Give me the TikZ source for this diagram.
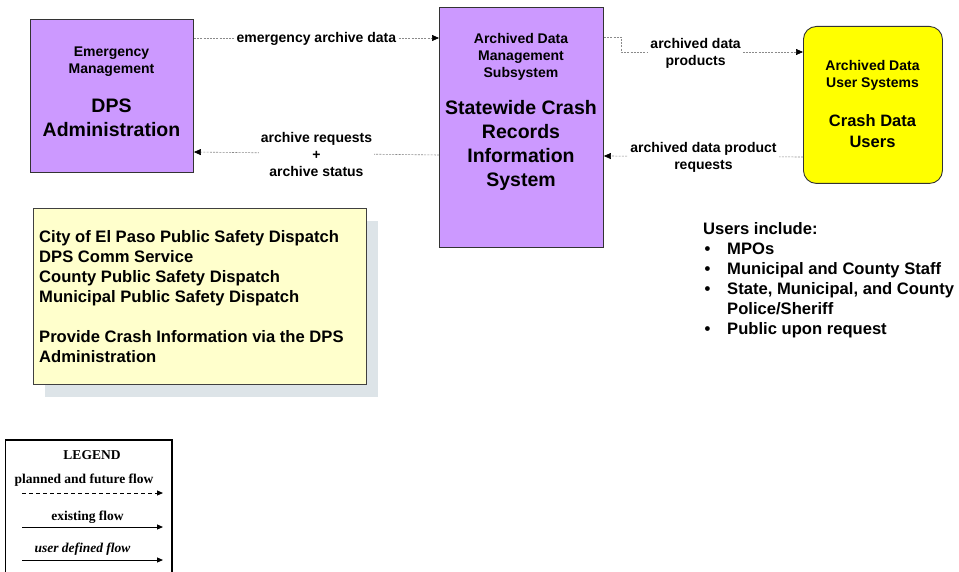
\documentclass[tikz,border=0pt]{standalone}
\usepackage{fontspec}
\setmainfont{Liberation Sans}
\newfontfamily\legendfont{Liberation Serif}
\usepackage{tikz}
\usetikzlibrary{arrows.meta,positioning,calc,shadows}
\definecolor{subsys}{HTML}{CC99FF}
\definecolor{termyellow}{HTML}{FFFF00}
\definecolor{notefill}{HTML}{FFFFCC}
\definecolor{noteshadow}{HTML}{DDE4E8}
\definecolor{flowgray}{HTML}{8A8A8A}
\newcommand{\bul}{\makebox[24pt][l]{\hspace{1.5pt}\textbullet}}

\begin{document}
\begin{tikzpicture}[
  x=1pt, y=-1pt,
  every node/.style={inner sep=0pt},
  boxline/.style  ={draw=black!80, line width=0.9pt},
  subsysbox/.style={boxline, fill=subsys, anchor=north west},
  termbox/.style  ={boxline, fill=termyellow, rounded corners=13pt, anchor=north west},
  smalltxt/.style ={font=\bfseries\fontsize{14}{17}\selectfont, align=center},
  bigtxt/.style   ={font=\bfseries\fontsize{19.5}{24}\selectfont, align=center},
  termtxt/.style  ={font=\bfseries\fontsize{16.5}{20.5}\selectfont, align=center},
  listtxt/.style  ={font=\bfseries\fontsize{16.6}{20}\selectfont, align=left, anchor=north west},
  flow/.style     ={draw=flowgray, line width=0.6pt, dash pattern=on 2pt off 1.2pt,
                    -{Triangle[length=7pt,width=6pt,color=black]}},
  flowlabel/.style={fill=white, inner xsep=2pt, inner ysep=1pt, yshift=-1.2pt,
                    font=\bfseries\fontsize{14}{17}\selectfont, align=center},
  legendtxt/.style={font=\legendfont\bfseries\fontsize{13.5}{16}\selectfont},
  legendflow/.style={line width=1pt, -{Triangle[length=6pt,width=5pt]}}]

\useasboundingbox (0,0) rectangle (959,572);

% ---------------------------- the boxes -------------------------------
\node[subsysbox, minimum width=163pt, minimum height=153pt] (dps) at (30,19) {};
\node[smalltxt] (dpsrole) at (111.5,61.5) {Emergency\\Management};
\node[bigtxt]   (dpsname) at (111.5,118) {DPS\\Administration};

\node[subsysbox, minimum width=164pt, minimum height=240pt] (scrs) at (439,7) {};
\node[smalltxt] (scrsrole) at (521,56.5) {Archived Data\\Management\\Subsystem};
\node[bigtxt]   (scrsname) at (521,145) {Statewide Crash\\Records\\Information\\System};

\node[termbox, minimum width=139pt, minimum height=157pt] (users) at (803,26) {};
\node[smalltxt] (usersrole) at (872.5,75.5) {Archived Data\\User Systems};
\node[termtxt]  (usersname) at (872.5,131) {Crash Data\\Users};

% ---------------------------- the flows -------------------------------
\draw[flow] (dps.east |- 0,38) -- node[flowlabel] {emergency archive data} (scrs.west |- 0,38);
\draw[flow] (scrs.west |- 0,155) -- node[flowlabel] {archive requests\\+\\archive status} (dps.east |- 0,152);
\draw[flow] (scrs.east |- 0,37) -- (621,37) -- (621,52)
  -- node[flowlabel, pos=0.41] {archived data\\products} (users.west |- 0,52);
\draw[flow] (users.west |- 0,157) -- node[flowlabel] {archived data product\\requests} (scrs.east |- 0,156);

% ---------------------------- the notes -------------------------------
\node[boxline, draw=black!75, line width=0.7pt, fill=notefill, anchor=north west,
  minimum width=333pt, minimum height=176pt,
  drop shadow={shadow xshift=12pt, shadow yshift=-13pt, fill=noteshadow, opacity=1}] (note) at (33,208) {};
\node[listtxt] (notetxt) at (39,230)
  {City of El Paso Public Safety Dispatch\\
   DPS Comm Service\\
   County Public Safety Dispatch\\
   Municipal Public Safety Dispatch\\[20pt]
   Provide Crash Information via the DPS\\
   Administration};

\node[listtxt] (userlist) at (703,222)
  {Users include:\\
   \bul MPOs\\
   \bul Municipal and County Staff\\
   \bul State, Municipal, and County\\
   \hspace*{24pt}Police/Sheriff\\
   \bul Public upon request};

% ---------------------------- the legend ------------------------------
\draw[line width=1.2pt] (5.5,572) -- (5.5,440) -- (172,440) -- (172,572);
\node[legendtxt] (lgtitle) at (92,455) {LEGEND};
\node[legendtxt] (lgplan) at (84,480) {planned and future flow};
\node[legendtxt] (lgexist) at (87.5,517.5) {existing flow};
\node[legendtxt, font=\legendfont\bfseries\itshape\fontsize{13.5}{16}\selectfont] (lguser) at (82.5,549) {user defined flow};
\coordinate (lgplanA) at (22,493);  \coordinate (lgplanB) at (163,493);
\coordinate (lgexistA) at (22,527); \coordinate (lgexistB) at (163,527);
\coordinate (lguserA) at (22,560);  \coordinate (lguserB) at (163,560);
\draw[legendflow, dash pattern=on 4pt off 3pt] (lgplanA) -- (lgplanB);
\draw[legendflow] (lgexistA) -- (lgexistB);
\draw[legendflow] (lguserA) -- (lguserB);

\end{tikzpicture}
\end{document}
